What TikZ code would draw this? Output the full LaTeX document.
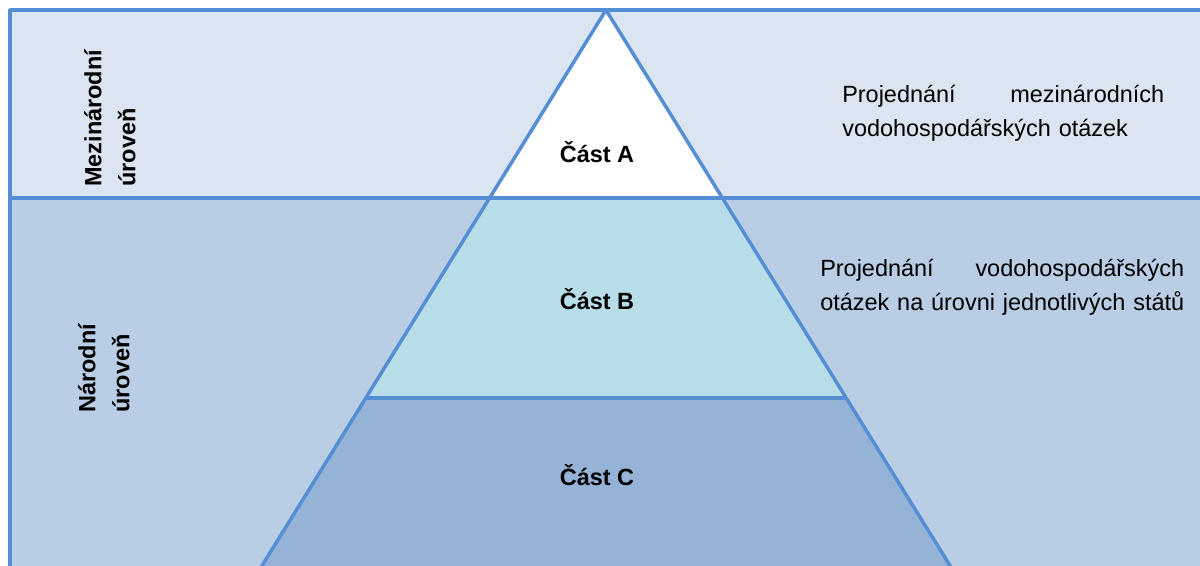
\documentclass[tikz,border=0pt]{standalone}
\usepackage{fontspec}
\setmainfont{Liberation Sans}
\usetikzlibrary{positioning}

\definecolor{topband}{HTML}{DBE5F1}
\definecolor{lowband}{HTML}{B9CDE5}
\definecolor{midpart}{HTML}{B7DEE8}
\definecolor{lowpart}{HTML}{95B3D7}
\definecolor{rimblue}{HTML}{558ED5}

\tikzset{
	rim/.style={draw=rimblue, line width=2.6pt, line join=round},
	partlabel/.style={font=\bfseries\fontsize{17.6}{25.5}\selectfont, inner sep=0pt, anchor=base},
	levellabel/.style={font=\bfseries\fontsize{17.6}{25.5}\selectfont, inner sep=0pt, rotate=90, align=left, anchor=west},
	notetext/.style={font=\fontsize{17.6}{25.5}\selectfont, inner sep=0pt, align=left, anchor=base west}
}

\begin{document}
\begin{tikzpicture}[x=0.75pt, y=-0.75pt]
	\useasboundingbox (0, 0) rectangle (1200, 566);

	% two levels
	\fill [topband] (10, 10) rectangle (1200, 198);
	\fill [lowband] (10, 198) rectangle (1200, 580);

	% pyramid corners
	\coordinate (apex) at (606, 10);
	\coordinate (abL) at (489.6, 198);
	\coordinate (abR) at (722.4, 198);
	\coordinate (bcL) at (365.8, 398);
	\coordinate (bcR) at (846.2, 398);
	\coordinate (baseL) at (253.1, 580);
	\coordinate (baseR) at (958.9, 580);

	\fill [white] (apex) -- (abR) -- (abL) -- cycle;
	\fill [midpart] (abL) -- (abR) -- (bcR) -- (bcL) -- cycle;
	\fill [lowpart] (bcL) -- (bcR) -- (baseR) -- (baseL) -- cycle;

	% frame lines
	\draw [rim] (10, 580) -- (10, 10) -- (1200, 10);
	\draw [rim] (10, 198) -- (1200, 198);
	\draw [rim] (baseL) -- (apex) -- (baseR);
	\draw [rim] (bcL) -- (bcR);

	\node [partlabel] (partA) at (597, 163) {Část A};
	\node [partlabel] (partB) at (597, 310) {Část B};
	\node [partlabel] (partC) at (597, 485) {Část C};

	\node [levellabel] (intlevel) at (110, 187) {Mezinárodní\\úroveň};
	\node [levellabel] (natlevel) at (104, 413) {Národní\\úroveň};

	\node [notetext, text width=241.5pt] (intnote) at (842, 103)
		{Projednání\hfill mezinárodních\\vodohospodářských otázek};
	\node [notetext, text width=273pt] (natnote) at (820, 277)
		{Projednání\hfill vodohospodářských\\otázek na úrovni jednotlivých států};
\end{tikzpicture}
\end{document}
